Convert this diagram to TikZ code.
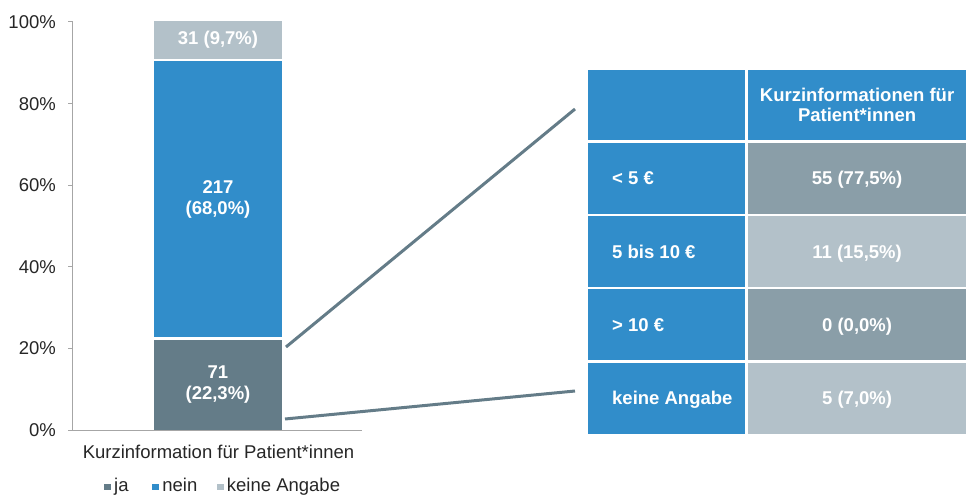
\documentclass[tikz,border=0pt]{standalone}
\usepackage{fontspec}
\setmainfont{Liberation Sans}
\usetikzlibrary{positioning}

\definecolor{cBlue}{HTML}{318DCA}
\definecolor{cJa}{HTML}{647C88}
\definecolor{cKeine}{HTML}{B3C1C9}
\definecolor{cMid}{HTML}{8A9EA8}
\definecolor{cAxis}{HTML}{A6A6A6}
\definecolor{cText}{HTML}{262626}

\begin{document}
\begin{tikzpicture}[
	x=1pt, y=-1pt,
	font=\fontsize{18.5}{21}\selectfont,
	text=cText,
	node distance=2pt,
	axisline/.style={cAxis, line width=1pt},
	axlbl/.style={anchor=east, inner sep=0pt, text height=13pt, text depth=0pt},
	seg/.style={minimum width=128pt, inner sep=0pt, text=white, align=center,
		font=\fontsize{18.5}{21}\selectfont\bfseries},
	cell/.style={minimum height=71pt, inner sep=0pt, text=white, align=center,
		font=\fontsize{18.5}{20}\selectfont\bfseries},
	valcell/.style={cell, text height=13pt, text depth=0pt},
	rowlbl/.style={anchor=west, inner sep=0pt, text=white, text height=13pt, text depth=0pt,
		font=\fontsize{18.5}{20}\selectfont\bfseries},
	legsq/.style={fill=#1, minimum size=6.5pt, inner sep=0pt},
	legtxt/.style={inner sep=0pt, text height=13pt, text depth=4pt},
	zoomline/.style={cJa, line width=3pt},
	]
	
	\useasboundingbox (0,0) rectangle (966,497);
	
	%% axis
	\draw[axisline] (72.5,22) -- (72.5,430) -- (362,430);
	\foreach \p in {0,20,...,100}{
		\draw[axisline] (68,{430-4.08*\p}) -- (72.5,{430-4.08*\p});
		\node[axlbl] (ax\p) at (56,{430-4.08*\p}) {\p\%};
	}
	
	%% stacked bar
	\node[seg, fill=cJa, minimum height=90pt, anchor=south] (ja) at (218,430) {71\\(22,3\%)};
	\node[seg, fill=cBlue, minimum height=276pt, above=of ja] (nein) {217\\(68,0\%)};
	\node[seg, fill=cKeine, minimum height=38pt, above=of nein] (keine) {31 (9,7\%)};
	
	\node[inner sep=0pt, text height=13pt, text depth=0pt] (cat) at (218.5,452)
		{Kurzinformation für Patient*innen};
	
	%% legend
	\node[legsq=cJa] (sqJa) at (107.5,487) {};
	\node[legtxt, right=3pt of sqJa] (lgJa) {ja};
	\node[legsq=cBlue] (sqNein) at (155.7,487) {};
	\node[legtxt, right=3pt of sqNein] (lgNein) {nein};
	\node[legsq=cKeine] (sqKeine) at (220.3,487) {};
	\node[legtxt, right=3pt of sqKeine] (lgKeine) {keine Angabe};
	
	%% table, header
	\node[cell, fill=cBlue, minimum width=157pt, minimum height=70pt, anchor=north west] (hdL) at (588,70) {};
	\node[cell, fill=cBlue, minimum width=219pt, minimum height=70pt, right=of hdL] (hdR)
		{Kurzinformationen für\\Patient*innen};
	
	%% table, rows
	\node[cell, fill=cBlue, minimum width=157pt, below=of hdL] (r1L) {};
	\node[valcell, fill=cMid, minimum width=219pt, right=of r1L] (r1R) {55 (77,5\%)};
	\node[cell, fill=cBlue, minimum width=157pt, below=of r1L] (r2L) {};
	\node[valcell, fill=cKeine, minimum width=219pt, right=of r2L] (r2R) {11 (15,5\%)};
	\node[cell, fill=cBlue, minimum width=157pt, below=of r2L] (r3L) {};
	\node[valcell, fill=cMid, minimum width=219pt, right=of r3L] (r3R) {0 (0,0\%)};
	\node[cell, fill=cBlue, minimum width=157pt, below=of r3L] (r4L) {};
	\node[valcell, fill=cKeine, minimum width=219pt, right=of r4L] (r4R) {5 (7,0\%)};
	
	\node[rowlbl, right=24pt of r1L.west] (l1) {< 5 €};
	\node[rowlbl, right=24pt of r2L.west] (l2) {5 bis 10 €};
	\node[rowlbl, right=24pt of r3L.west] (l3) {> 10 €};
	\node[rowlbl, right=24pt of r4L.west] (l4) {keine Angabe};
	
	%% zoom lines
	\coordinate (zTop) at (286,347);
	\coordinate (zTopEnd) at (575,109);
	\coordinate (zBot) at (285,419);
	\coordinate (zBotEnd) at (575,391);
	\draw[zoomline] (zTop) -- (zTopEnd);
	\draw[zoomline] (zBot) -- (zBotEnd);
	
\end{tikzpicture}
\end{document}
